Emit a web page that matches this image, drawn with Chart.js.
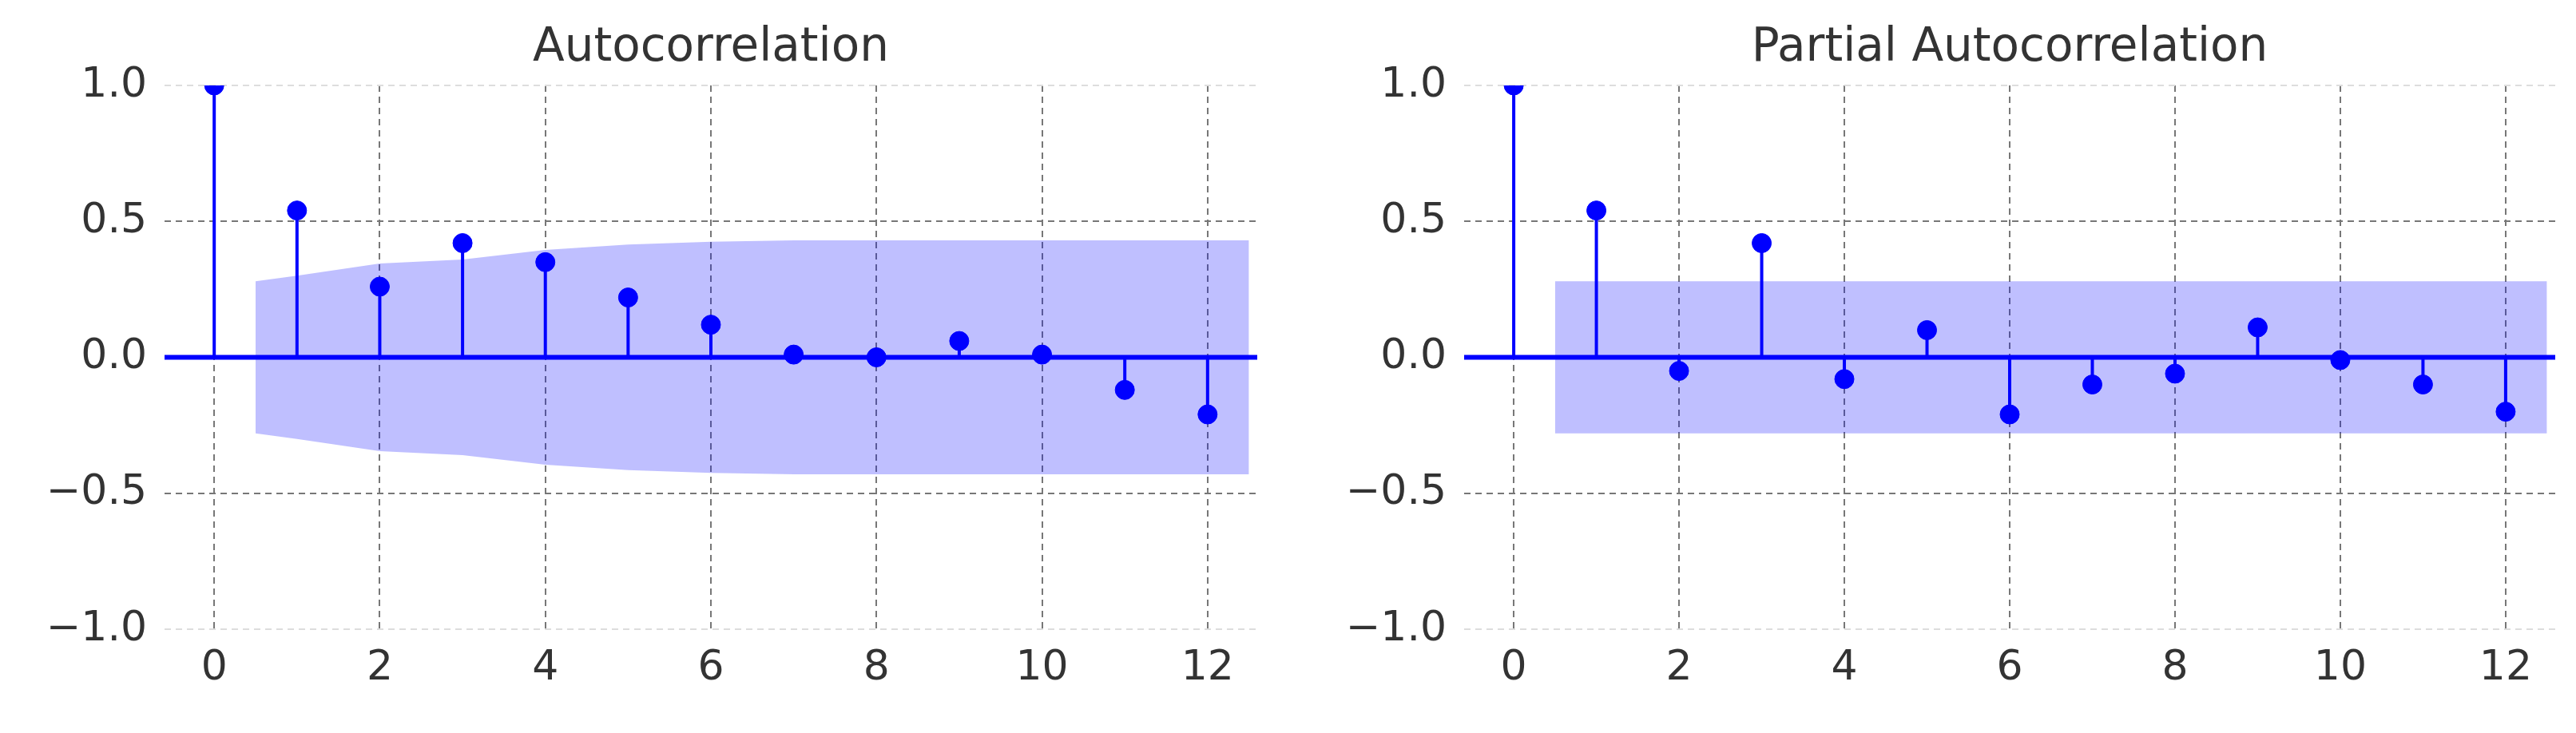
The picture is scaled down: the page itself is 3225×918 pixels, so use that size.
<!DOCTYPE html>
<html><head><meta charset="utf-8">
<script src="https://cdn.jsdelivr.net/npm/chart.js@4"></script>
<style>
body{margin:0;width:3225px;height:918px;background:#fff;overflow:hidden;font-family:"DejaVu Sans";}
.w{position:absolute;top:0;height:918px;}
.t{position:absolute;top:22px;font-size:58px;color:#333;text-align:center;}
</style></head><body>
<div class="w" style="left:0;width:1612px"><canvas id="c1" width="1612" height="918"></canvas></div>
<div class="w" style="left:1612px;width:1613px"><canvas id="c2" width="1613" height="918"></canvas></div>
<div class="t" style="left:206px;width:1368px">Autocorrelation</div>
<div class="t" style="left:1833px;width:1366px">Partial Autocorrelation</div>
<script>
const lags=[0,1,2,3,4,5,6,7,8,9,10,11,12];
const acf=[1,0.54,0.26,0.42,0.35,0.22,0.12,0.01,0.00,0.06,0.01,-0.12,-0.21];
const pacf=[1,0.54,-0.05,0.42,-0.08,0.10,-0.21,-0.10,-0.06,0.11,-0.01,-0.10,-0.20];
const bandX=[0.5,1,2,3,4,5,6,7,8,9,10,11,12,12.5];
const acfBand=[0.28,0.30,0.345,0.36,0.395,0.415,0.425,0.43,0.43,0.43,0.43,0.43,0.43,0.43];
const pacfBand=[0.28,0.28,0.28,0.28,0.28,0.28,0.28,0.28,0.28,0.28,0.28,0.28,0.28,0.28];
const xTicks=[0,2,4,6,8,10,12];
const yTicks=[-1,-0.5,0,0.5,1];
const blue='#0000ff';
function make(id,vals,band,leftW,rightPad){
  const stems=[];
  lags.forEach((l,i)=>{stems.push({x:l,y:0},{x:l,y:vals[i]},{x:l,y:null});});
  new Chart(document.getElementById(id),{
    type:'scatter',
    data:{datasets:[
      {type:'line',data:bandX.map((x,i)=>({x,y:band[i]})),borderWidth:0,pointRadius:0,fill:false,order:5},
      {type:'line',data:bandX.map((x,i)=>({x,y:-band[i]})),borderWidth:0,pointRadius:0,fill:'-1',backgroundColor:'rgba(0,0,255,0.25)',order:5},
      {type:'line',data:[{x:-0.6,y:0},{x:12.6,y:0}],borderColor:blue,borderWidth:6,pointRadius:0,order:2},
      {type:'line',data:stems,borderColor:blue,borderWidth:4,pointRadius:0,spanGaps:false,order:3},
      {data:lags.map((l,i)=>({x:l,y:vals[i]})),backgroundColor:blue,borderColor:blue,pointRadius:12,order:1}
    ]},
    options:{animation:false,responsive:false,events:[],
      layout:{padding:{top:107,right:rightPad,left:0,bottom:0}},
      plugins:{legend:{display:false},tooltip:{enabled:false}},
      scales:{
        x:{type:'linear',min:-0.6,max:12.6,border:{display:false},
          afterBuildTicks:s=>{s.ticks=xTicks.map(v=>({value:v}));},
          afterFit:s=>{s.height=130;},
          grid:{color:'#777',lineWidth:2,tickLength:0,drawTicks:false},
          border:{display:false,dash:[8,6]},
          ticks:{color:'#333',font:{family:'DejaVu Sans',size:52},padding:18}},
        y:{min:-1,max:1,
          afterBuildTicks:s=>{s.ticks=yTicks.map(v=>({value:v}));},
          afterFit:s=>{s.width=leftW;},
          grid:{color:c=>Math.abs(c.tick.value)===1?'#ddd':'#777',lineWidth:2,drawTicks:false},
          border:{display:false,dash:[8,6]},
          ticks:{color:'#333',font:{family:'DejaVu Sans',size:52},padding:22,
            callback:v=>(v<0?'\u2212':'')+Math.abs(v).toFixed(1)}}
      }}
  });
}
make('c1',acf,acfBand,206,38);
make('c2',pacf,pacfBand,221,26);
</script></body></html>
